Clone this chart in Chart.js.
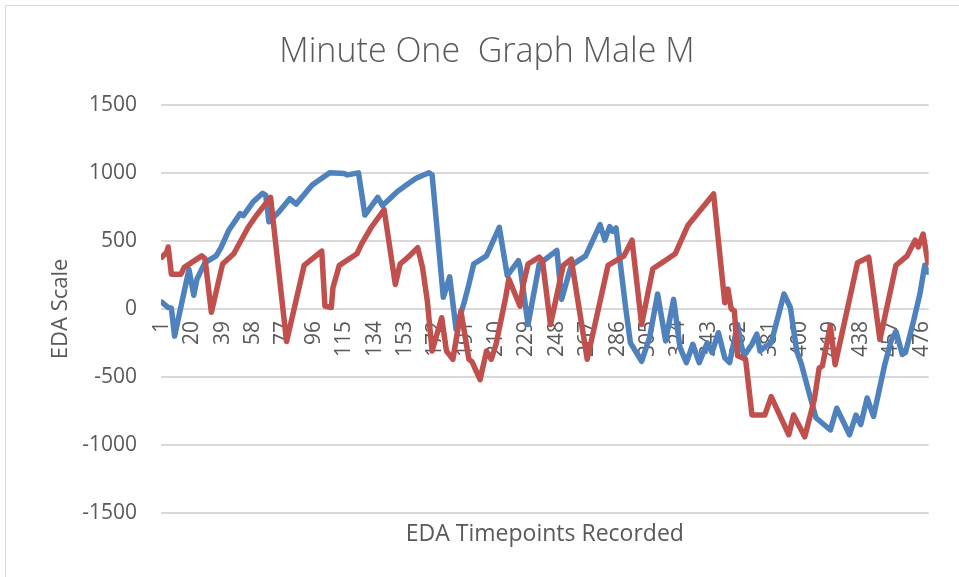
<!DOCTYPE html>
<html>
<head>
<meta charset="utf-8">
<script src="https://cdn.jsdelivr.net/npm/chart.js@4"></script>
<style>
    html, body { margin: 0; padding: 0; background: #fff; }
    #frame {
        position: absolute; left: 5px; top: 5px;
        width: 970px; height: 590px;
        border: 1.5px solid #d9d9d9;
    }
    #chart { position: absolute; left: 0; top: 0; }
</style>
</head>
<body>
<div id="frame"></div>
<canvas id="chart" width="959" height="577"></canvas>
<script>
// timepoint labels shown along the axis
const xTickLabels = [1, 20, 39, 58, 77, 96, 115, 134, 153, 172, 191, 210, 229, 248,
    267, 286, 305, 324, 343, 362, 381, 400, 419, 438, 457, 476];

// [timepoint, EDA value]
const blueSeries = [
    [1, 50], [5, 10], [7, 5], [9, -200], [18, 290], [21, 100], [23, 220], [28, 340],
    [35, 390], [38, 450], [43, 580], [50, 700], [52, 685], [58, 785], [64, 850], [66, 835],
    [68, 640], [74, 710], [81, 810], [85, 770], [95, 910], [106, 1000], [115, 995], [117, 985],
    [124, 1000], [128, 690], [136, 820], [139, 760], [148, 860], [155, 920], [160, 960],
    [168, 1000], [170, 985], [177, 85], [181, 235], [185, -150], [190, 45], [193, 180],
    [196, 330], [204, 390], [212, 600], [217, 245], [224, 355], [225, 310], [230, -115],
    [237, 330], [248, 430], [251, 70], [257, 320], [266, 390], [275, 620], [278, 505],
    [281, 605], [283, 570], [285, 595], [291, 10], [294, -250], [301, -385], [306, -210],
    [311, 110], [316, -235], [321, 70], [325, -285], [329, -395], [333, -260], [337, -395],
    [342, -250], [345, -320], [349, -175], [353, -360], [356, -395], [361, -115], [363, -250],
    [365, -345], [370, -260], [373, -185], [375, -310], [378, -280], [382, -250], [390, 110],
    [394, 10], [398, -310], [401, -410], [406, -630], [410, -800], [419, -890], [423, -730],
    [431, -925], [435, -780], [438, -850], [442, -655], [446, -790], [453, -410], [457, -235],
    [460, -165], [464, -335], [466, -320], [471, -90], [475, 110], [478, 320], [480, 270]
];

const redSeries = [
    [1, 380], [4, 415], [5, 455], [7, 255], [13, 255], [15, 305], [26, 390], [28, 370],
    [32, -25], [39, 330], [46, 405], [55, 600], [60, 685], [69, 820], [79, -240], [90, 320],
    [101, 425], [103, 20], [107, 10], [108, 155], [112, 320], [123, 405], [126, 480],
    [132, 600], [140, 730], [147, 180], [150, 330], [155, 380], [161, 450], [164, 305],
    [167, 60], [170, -310], [176, -65], [179, -310], [183, -370], [188, -15], [193, -370],
    [195, -390], [200, -520], [204, -310], [207, -370], [210, -260], [216, 85], [218, 220],
    [225, 20], [227, 180], [230, 330], [237, 380], [239, 355], [244, -115], [252, 320],
    [257, 365], [267, -370], [280, 320], [290, 390], [295, 505], [301, -115], [308, 295],
    [317, 365], [322, 405], [330, 615], [346, 845], [353, 45], [355, 145], [357, 0],
    [359, -15], [361, -345], [366, -370], [370, -780], [378, -780], [382, -645], [393, -925],
    [396, -780], [403, -940], [409, -665], [412, -435], [414, -420], [419, -125], [422, -410],
    [436, 340], [443, 380], [450, -225], [460, 320], [467, 390], [472, 505], [474, 455],
    [477, 550], [480, 340]
];

const textColor = "#595959";
const gridColor = "#d9d9d9";
const fontFamily = "'Open Sans', 'Liberation Sans', sans-serif";

/**
 * Turn [x, y] pairs into chart points.
 */
function toPoints(pairs) {
    return pairs.map(p => ({ x: p[0], y: p[1] }));
}

function initChart(ctx) {
    new Chart(ctx, {
        type: "line",
        data: {
            datasets: [{
                label: "Series1",
                data: toPoints(blueSeries),
                borderColor: "#4f81bd",
                order: 1
            }, {
                label: "Series2",
                data: toPoints(redSeries),
                borderColor: "#c0504d",
                order: 0
            }]
        },
        options: {
            responsive: false,
            animation: false,
            layout: { padding: { left: 15, right: 0, top: 0, bottom: 0 } },
            elements: {
                point: { radius: 0 },
                line: { borderWidth: 5.5, tension: 0, borderJoinStyle: "round", borderCapStyle: "round" }
            },
            plugins: {
                legend: { display: false },
                tooltip: { enabled: false },
                title: {
                    display: true,
                    text: "Minute One  Graph Male M",
                    color: textColor,
                    font: { family: fontFamily, size: 34, weight: "300" },
                    padding: { top: 32, bottom: 32 }
                }
            },
            scales: {
                x: {
                    type: "linear",
                    position: { y: 0 },
                    min: 0.5,
                    max: 480.5,
                    afterBuildTicks: scale => {
                        scale.ticks = xTickLabels.map(v => ({ value: v }));
                    },
                    grid: { display: false, drawTicks: false },
                    border: { display: false },
                    ticks: {
                        autoSkip: false,
                        minRotation: 90,
                        maxRotation: 90,
                        padding: 12,
                        color: textColor,
                        font: { family: fontFamily, size: 21 },
                        callback: v => String(v)
                    }
                },
                x2: {
                    type: "linear",
                    position: "bottom",
                    afterFit: scale => { scale.height = 64; },
                    grid: { display: false, drawTicks: false },
                    border: { display: false },
                    ticks: { display: false },
                    title: {
                        display: true,
                        text: "EDA Timepoints Recorded",
                        color: textColor,
                        font: { family: fontFamily, size: 23 },
                        padding: { top: 0, bottom: 29 }
                    }
                },
                y: {
                    min: -1500,
                    max: 1500,
                    afterFit: scale => { scale.width = 146; },
                    grid: { color: gridColor, lineWidth: 2, drawTicks: false },
                    border: { display: false },
                    ticks: {
                        stepSize: 500,
                        padding: 24,
                        color: textColor,
                        font: { family: fontFamily, size: 21 },
                        callback: v => String(v)
                    },
                    title: {
                        display: true,
                        text: "EDA Scale",
                        color: textColor,
                        font: { family: fontFamily, size: 22 },
                        padding: { top: 33, bottom: 0 }
                    }
                },
                // empty right-hand strip beside the plot
                y2: {
                    type: "linear",
                    position: "right",
                    afterFit: scale => { scale.width = 19; },
                    grid: { display: false, drawTicks: false },
                    border: { display: false },
                    ticks: { display: false }
                }
            }
        }
    });
}

initChart(document.getElementById("chart"));
</script>
</body>
</html>
